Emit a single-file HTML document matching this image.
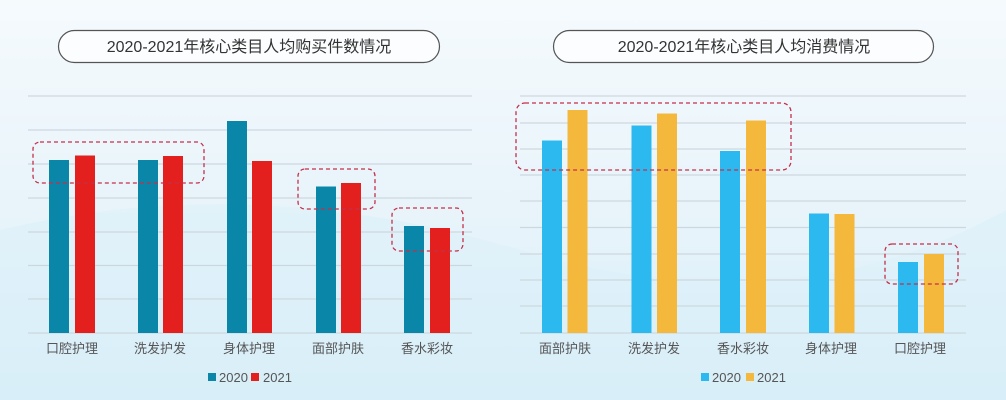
<!DOCTYPE html>
<html><head><meta charset="utf-8"><style>
html,body{margin:0;padding:0;}
body{width:1006px;height:400px;overflow:hidden;background:linear-gradient(180deg,#f3f9fd 0%,#eaf5fb 50%,#d6eef9 100%);}
svg{display:block;font-family:"Liberation Sans","Noto Sans CJK SC",sans-serif;}
</style></head><body>
<svg width="1006" height="400" viewBox="0 0 1006 400">
<defs>
<linearGradient id="bg" x1="0" y1="0" x2="0" y2="1"><stop offset="0" stop-color="#f5fafd"/><stop offset="0.6" stop-color="#e6f3fa"/><stop offset="1" stop-color="#d2ecf8"/></linearGradient>
</defs>
<rect width="1006" height="400" fill="url(#bg)"/>
<path d="M0 230 Q250 170 520 250 T1006 210 L1006 400 L0 400Z" fill="#dcf0f9" opacity="0.6"/>
<!-- titles -->
<rect x="58.5" y="30.5" width="381" height="32" rx="16" fill="#fbfdfe" stroke="#555" stroke-width="1.2"/>
<text x="249" y="52" font-size="16" fill="#333" text-anchor="middle">2020-2021年核心类目人均购买件数情况</text>
<rect x="553.5" y="30.5" width="380" height="32" rx="16" fill="#fbfdfe" stroke="#555" stroke-width="1.2"/>
<text x="744" y="52" font-size="16" fill="#333" text-anchor="middle">2020-2021年核心类目人均消费情况</text>
<!-- left grid -->
<g stroke="#cdd8de" stroke-width="1.2">
<line x1="28" x2="472" y1="96" y2="96"/><line x1="28" x2="472" y1="130" y2="130"/><line x1="28" x2="472" y1="164" y2="164"/><line x1="28" x2="472" y1="198" y2="198"/><line x1="28" x2="472" y1="232" y2="232"/><line x1="28" x2="472" y1="265.5" y2="265.5"/><line x1="28" x2="472" y1="299" y2="299"/><line x1="28" x2="472" y1="333" y2="333"/>
</g>
<g fill="#0a87a8">
<rect x="49" y="160" width="20" height="173"/><rect x="138" y="160" width="20" height="173"/><rect x="227" y="121" width="20" height="212"/><rect x="316" y="186.5" width="20" height="146.5"/><rect x="404" y="226" width="20" height="107"/>
</g>
<g fill="#e3201d">
<rect x="75" y="155.5" width="20" height="177.5"/><rect x="163" y="156" width="20" height="177"/><rect x="252" y="161" width="20" height="172"/><rect x="341" y="183" width="20" height="150"/><rect x="430" y="228" width="20" height="105"/>
</g>
<g fill="none" stroke="#c4304a" stroke-width="1.3" stroke-dasharray="4,3">
<rect x="33" y="142" width="171" height="41" rx="7"/><rect x="298" y="169" width="77" height="40" rx="7"/><rect x="392" y="208" width="71" height="43" rx="7"/>
</g>
<g font-size="13" fill="#555" text-anchor="middle">
<text x="72" y="353">口腔护理</text><text x="160" y="353">洗发护发</text><text x="249" y="353">身体护理</text><text x="338" y="353">面部护肤</text><text x="427" y="353">香水彩妆</text>
</g>
<rect x="208" y="373" width="8" height="8" fill="#0a87a8"/><text x="219" y="382" font-size="13" fill="#555">2020</text>
<rect x="251" y="373" width="8" height="8" fill="#e3201d"/><text x="263" y="382" font-size="13" fill="#555">2021</text>
<!-- right grid -->
<g stroke="#cdd8de" stroke-width="1.2">
<line x1="520" x2="966" y1="96" y2="96"/><line x1="520" x2="966" y1="123" y2="123"/><line x1="520" x2="966" y1="149" y2="149"/><line x1="520" x2="966" y1="175" y2="175"/><line x1="520" x2="966" y1="201" y2="201"/><line x1="520" x2="966" y1="227.5" y2="227.5"/><line x1="520" x2="966" y1="254" y2="254"/><line x1="520" x2="966" y1="280" y2="280"/><line x1="520" x2="966" y1="306" y2="306"/><line x1="520" x2="966" y1="333" y2="333"/>
</g>
<g fill="#2cb9ef">
<rect x="542" y="140.5" width="20" height="192.5"/><rect x="631.5" y="125.5" width="20" height="207.5"/><rect x="720" y="151" width="20" height="182"/><rect x="809" y="213.5" width="20" height="119.5"/><rect x="898" y="262" width="20" height="71"/>
</g>
<g fill="#f4b93c">
<rect x="567.5" y="110" width="20" height="223"/><rect x="657" y="113.5" width="20" height="219.5"/><rect x="746" y="120.5" width="20" height="212.5"/><rect x="834.5" y="214" width="20" height="119"/><rect x="924" y="254" width="20" height="79"/>
</g>
<g fill="none" stroke="#c4304a" stroke-width="1.3" stroke-dasharray="4,3">
<rect x="516" y="103" width="275" height="67" rx="9"/><rect x="885" y="244" width="73" height="40" rx="7"/>
</g>
<g font-size="13" fill="#555" text-anchor="middle">
<text x="565" y="353">面部护肤</text><text x="654" y="353">洗发护发</text><text x="743" y="353">香水彩妆</text><text x="831" y="353">身体护理</text><text x="920" y="353">口腔护理</text>
</g>
<rect x="701" y="373" width="8" height="8" fill="#2cb9ef"/><text x="712" y="382" font-size="13" fill="#555">2020</text>
<rect x="746" y="373" width="8" height="8" fill="#f4b93c"/><text x="757" y="382" font-size="13" fill="#555">2021</text>
</svg>
</body></html>
